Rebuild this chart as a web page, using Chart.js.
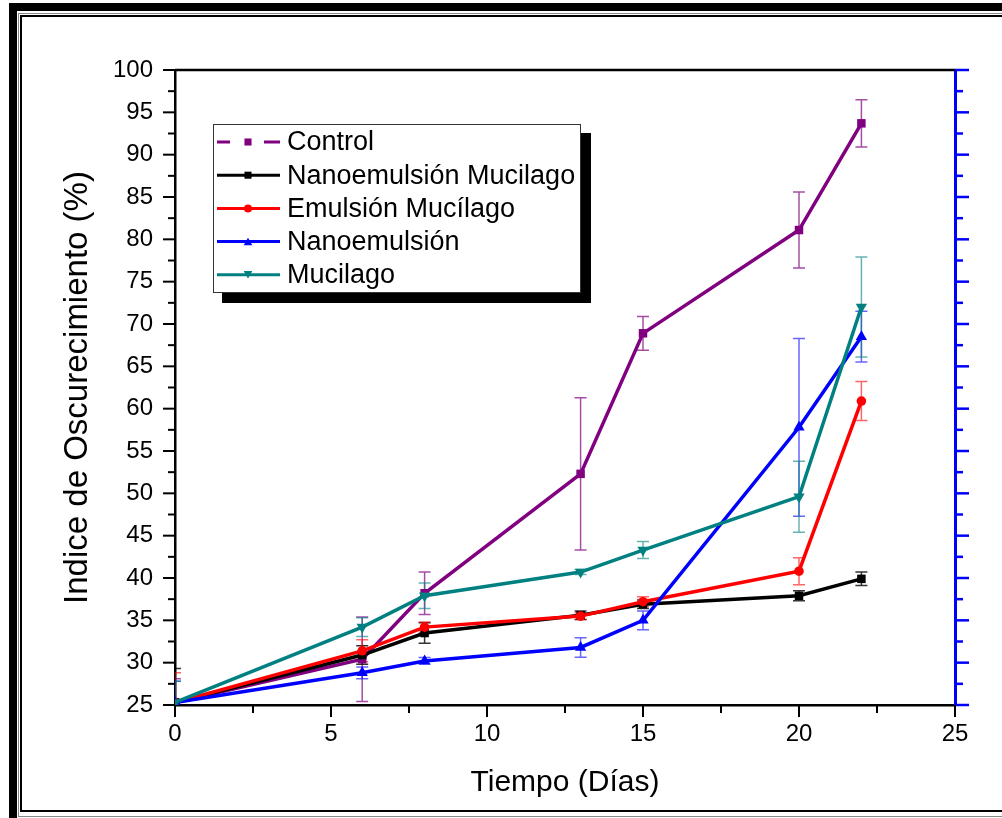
<!DOCTYPE html>
<html>
<head>
<meta charset="utf-8">
<script src="https://cdn.jsdelivr.net/npm/chart.js@4/dist/chart.umd.min.js"></script>
<style>
html,body{margin:0;padding:0;background:#fff;}
#wrap{position:relative;width:1002px;height:818px;overflow:hidden;background:#fff;}
#c{position:absolute;left:0;top:0;}
.f1{position:absolute;left:9px;top:3px;width:1100px;height:1000px;border-left:8px solid #000;border-top:8px solid #000;}
.f2{position:absolute;left:18px;top:13px;width:1100px;height:804px;border:1px solid #888;box-sizing:border-box;}
.f3{position:absolute;left:20px;top:15px;width:1100px;height:797px;border:2px solid #000;box-sizing:border-box;}
</style>
</head>
<body>
<div id="wrap">
<canvas id="c" width="1002" height="818"></canvas>
<div class="f1"></div><div class="f2"></div><div class="f3"></div>
</div>
<script>
// dias de almacenamiento
var dias = [0, 6, 8, 13, 15, 20, 22];
var nombres = ["Control", "Nanoemulsión Mucilago", "Emulsión Mucílago", "Nanoemulsión", "Mucilago"];

var control     = [25.3, 30.4, 38.2, 52.3, 68.9, 81.1, 93.7];
var controlErr  = [2.8, 5.0, 2.5, 9.0, 2.0, 4.5, 2.8];
var nanoMuc     = [25.3, 30.9, 33.5, 35.6, 36.9, 37.9, 39.9];
var nanoMucErr  = [4.0, 1.1, 1.2, 0.5, 0.5, 0.6, 0.8];
var emulMuc     = [25.3, 31.4, 34.2, 35.5, 37.2, 40.8, 60.9];
var emulMucErr  = [3.5, 1.3, 0.6, 0.4, 0.6, 1.6, 2.3];
var nano        = [25.3, 28.8, 30.2, 31.8, 35.0, 57.8, 68.5];
var nanoErr     = [2.5, 0.7, 0.4, 1.15, 1.1, 10.5, 3.0];
var mucilago    = [25.3, 34.2, 37.9, 40.7, 43.3, 49.6, 72.0];
var mucilagoErr = [2.5, 1.1, 1.5, 0.3, 1.0, 4.2, 5.9];

var yMin = 25, yMax = 100, yStep = 5;
var xMin = 0, xMax = 25, xStep = 5;

var colores = ["#800080", "#000000", "#ff0000", "#0000ff", "#008080"];
var errColores = ["rgba(128,0,128,0.7)", "rgba(0,0,0,0.8)", "rgba(255,0,0,0.6)", "rgba(0,0,255,0.6)", "rgba(0,128,128,0.6)"];
var marcas = ["rect", "rect", "circle", "triangle", "triangle"];
var radios = [6, 6, 4.8, 6.5, 6.5];
var giros = [0, 0, 0, 0, 180];

var valores = [control, nanoMuc, emulMuc, nano, mucilago];
var errores = [controlErr, nanoMucErr, emulMucErr, nanoErr, mucilagoErr];

var FONT = "'Liberation Sans', Arial, sans-serif";

var datasets = [];
for (var i = 0; i < 5; i++) {
  datasets.push({
    label: nombres[i],
    data: dias.map(function (d, k) { return {x: d, y: valores[i][k]}; }),
    err: errores[i],
    errColor: errColores[i],
    borderColor: colores[i],
    backgroundColor: colores[i],
    borderWidth: 3.5,
    pointStyle: marcas[i],
    pointRadius: radios[i],
    pointRotation: giros[i],
    pointBorderWidth: 0,
    tension: 0,
    order: 5 - i
  });
}

function marca(ctx, style, x, y, r, rot) {
  ctx.beginPath();
  if (style == "rect") {
    var s = r * Math.SQRT1_2;
    ctx.rect(x - s, y - s, 2 * s, 2 * s);
  } else if (style == "circle") {
    ctx.arc(x, y, r, 0, Math.PI * 2);
  } else {
    var a = rot ? Math.PI : 0;
    for (var k = 0; k < 3; k++) {
      var ang = a + k * 2 * Math.PI / 3 - Math.PI / 2;
      var px = x + r * Math.cos(ang), py = y + r * Math.sin(ang) + (rot ? -r * 0.25 : r * 0.25);
      if (k == 0) ctx.moveTo(px, py); else ctx.lineTo(px, py);
    }
    ctx.closePath();
  }
  ctx.fill();
}

var barras = {
  id: "barras",
  beforeDatasetsDraw: function (chart) {
    var ctx = chart.ctx, xs = chart.scales.x, ys = chart.scales.y, a = chart.chartArea;
    ctx.save();
    ctx.beginPath();
    ctx.rect(a.left, a.top, a.right - a.left, a.bottom - a.top);
    ctx.clip();
    ctx.lineWidth = 1.5;
    chart.data.datasets.forEach(function (ds) {
      ctx.strokeStyle = ds.errColor;
      ds.data.forEach(function (p, k) {
        var x = xs.getPixelForValue(p.x);
        var y1 = ys.getPixelForValue(p.y + ds.err[k]);
        var y2 = ys.getPixelForValue(p.y - ds.err[k]);
        ctx.beginPath();
        ctx.moveTo(x, y1); ctx.lineTo(x, y2);
        ctx.moveTo(x - 6, y1); ctx.lineTo(x + 6, y1);
        ctx.moveTo(x - 6, y2); ctx.lineTo(x + 6, y2);
        ctx.stroke();
      });
    });
    ctx.restore();
  }
};

var marcos = {
  id: "marcos",
  afterDraw: function (chart) {
    var ctx = chart.ctx, xs = chart.scales.x, ys = chart.scales.y, a = chart.chartArea;
    ctx.save();
    // linea superior
    ctx.strokeStyle = "#000";
    ctx.lineWidth = 2.5;
    ctx.beginPath();
    ctx.moveTo(a.left, a.top); ctx.lineTo(a.right, a.top);
    ctx.stroke();
    ctx.lineWidth = 2;
    for (var v = yMin; v <= yMax; v += yStep / 2) {
      var y = ys.getPixelForValue(v);
      var mayor = (v % yStep == 0);
      ctx.strokeStyle = "#000";
      ctx.beginPath();
      ctx.moveTo(a.left - (mayor ? 12 : 7), y); ctx.lineTo(a.left, y);
      ctx.stroke();
      ctx.strokeStyle = "#0000ff";
      ctx.lineWidth = 2.5;
      ctx.beginPath();
      ctx.moveTo(a.right, y); ctx.lineTo(a.right + (mayor ? 14 : 8), y);
      ctx.stroke();
      ctx.lineWidth = 2;
    }
    ctx.strokeStyle = "#000";
    for (var w = xMin; w <= xMax; w += xStep / 2) {
      var x = xs.getPixelForValue(w);
      var may = (w % xStep == 0);
      ctx.beginPath();
      ctx.moveTo(x, a.bottom); ctx.lineTo(x, a.bottom + (may ? 12 : 8));
      ctx.stroke();
    }
    ctx.restore();
  }
};

var leyenda = {
  id: "leyenda",
  afterDraw: function (chart) {
    var ctx = chart.ctx;
    ctx.save();
    ctx.fillStyle = "#000";
    ctx.fillRect(222, 133, 369, 170);
    ctx.fillStyle = "#fff";
    ctx.fillRect(213, 124, 368, 169);
    ctx.strokeStyle = "#333";
    ctx.lineWidth = 1;
    ctx.strokeRect(213.5, 124.5, 367, 168);
    ctx.font = "27px " + FONT;
    ctx.textBaseline = "middle";
    chart.data.datasets.forEach(function (ds, k) {
      var y = 142 + k * 33.2;
      ctx.strokeStyle = ds.borderColor;
      ctx.fillStyle = ds.borderColor;
      ctx.lineWidth = 3;
      ctx.beginPath();
      if (k == 0) {
        ctx.moveTo(217, y); ctx.lineTo(230, y);
        ctx.moveTo(264, y); ctx.lineTo(280, y);
      } else {
        ctx.moveTo(217, y); ctx.lineTo(280, y);
      }
      ctx.stroke();
      marca(ctx, ds.pointStyle, 248, y, ds.pointStyle == "circle" ? 4 : 5, ds.pointRotation);
      ctx.fillStyle = "#000";
      ctx.fillText(ds.label, 287, y + 1);
    });
    ctx.restore();
  }
};

new Chart(document.getElementById("c"), {
  type: "line",
  data: {datasets: datasets},
  options: {
    responsive: false,
    animation: false,
    devicePixelRatio: 1,
    layout: {padding: {top: 70, left: 0, right: 0, bottom: 0}},
    plugins: {legend: {display: false}, tooltip: {enabled: false}},
    scales: {
      x: {
        type: "linear", min: xMin, max: xMax,
        ticks: {stepSize: xStep, color: "#000", font: {family: FONT, size: 24}, padding: 15},
        grid: {drawOnChartArea: false, drawTicks: false},
        border: {color: "#000", width: 2.5},
        title: {display: true, text: "Tiempo (Días)", color: "#000", font: {family: FONT, size: 30}, padding: {top: 0, bottom: 17}},
        afterFit: function (s) { s.height = 113; }
      },
      y: {
        position: "left", min: yMin, max: yMax,
        ticks: {stepSize: yStep, color: "#000", font: {family: FONT, size: 24}, padding: 22},
        grid: {drawOnChartArea: false, drawTicks: false},
        border: {color: "#000", width: 2.5},
        title: {display: true, text: "Indice de Oscurecimiento (%)", color: "#000", font: {family: FONT, size: 33}, padding: {top: 58, bottom: 0}},
        afterFit: function (s) { s.width = 175; }
      },
      y2: {
        position: "right", min: yMin, max: yMax,
        ticks: {display: false, stepSize: yStep},
        grid: {drawOnChartArea: false, drawTicks: false},
        border: {color: "#0000ff", width: 3},
        afterFit: function (s) { s.width = 47; }
      }
    }
  },
  plugins: [barras, marcos, leyenda]
});
</script>
</body>
</html>
